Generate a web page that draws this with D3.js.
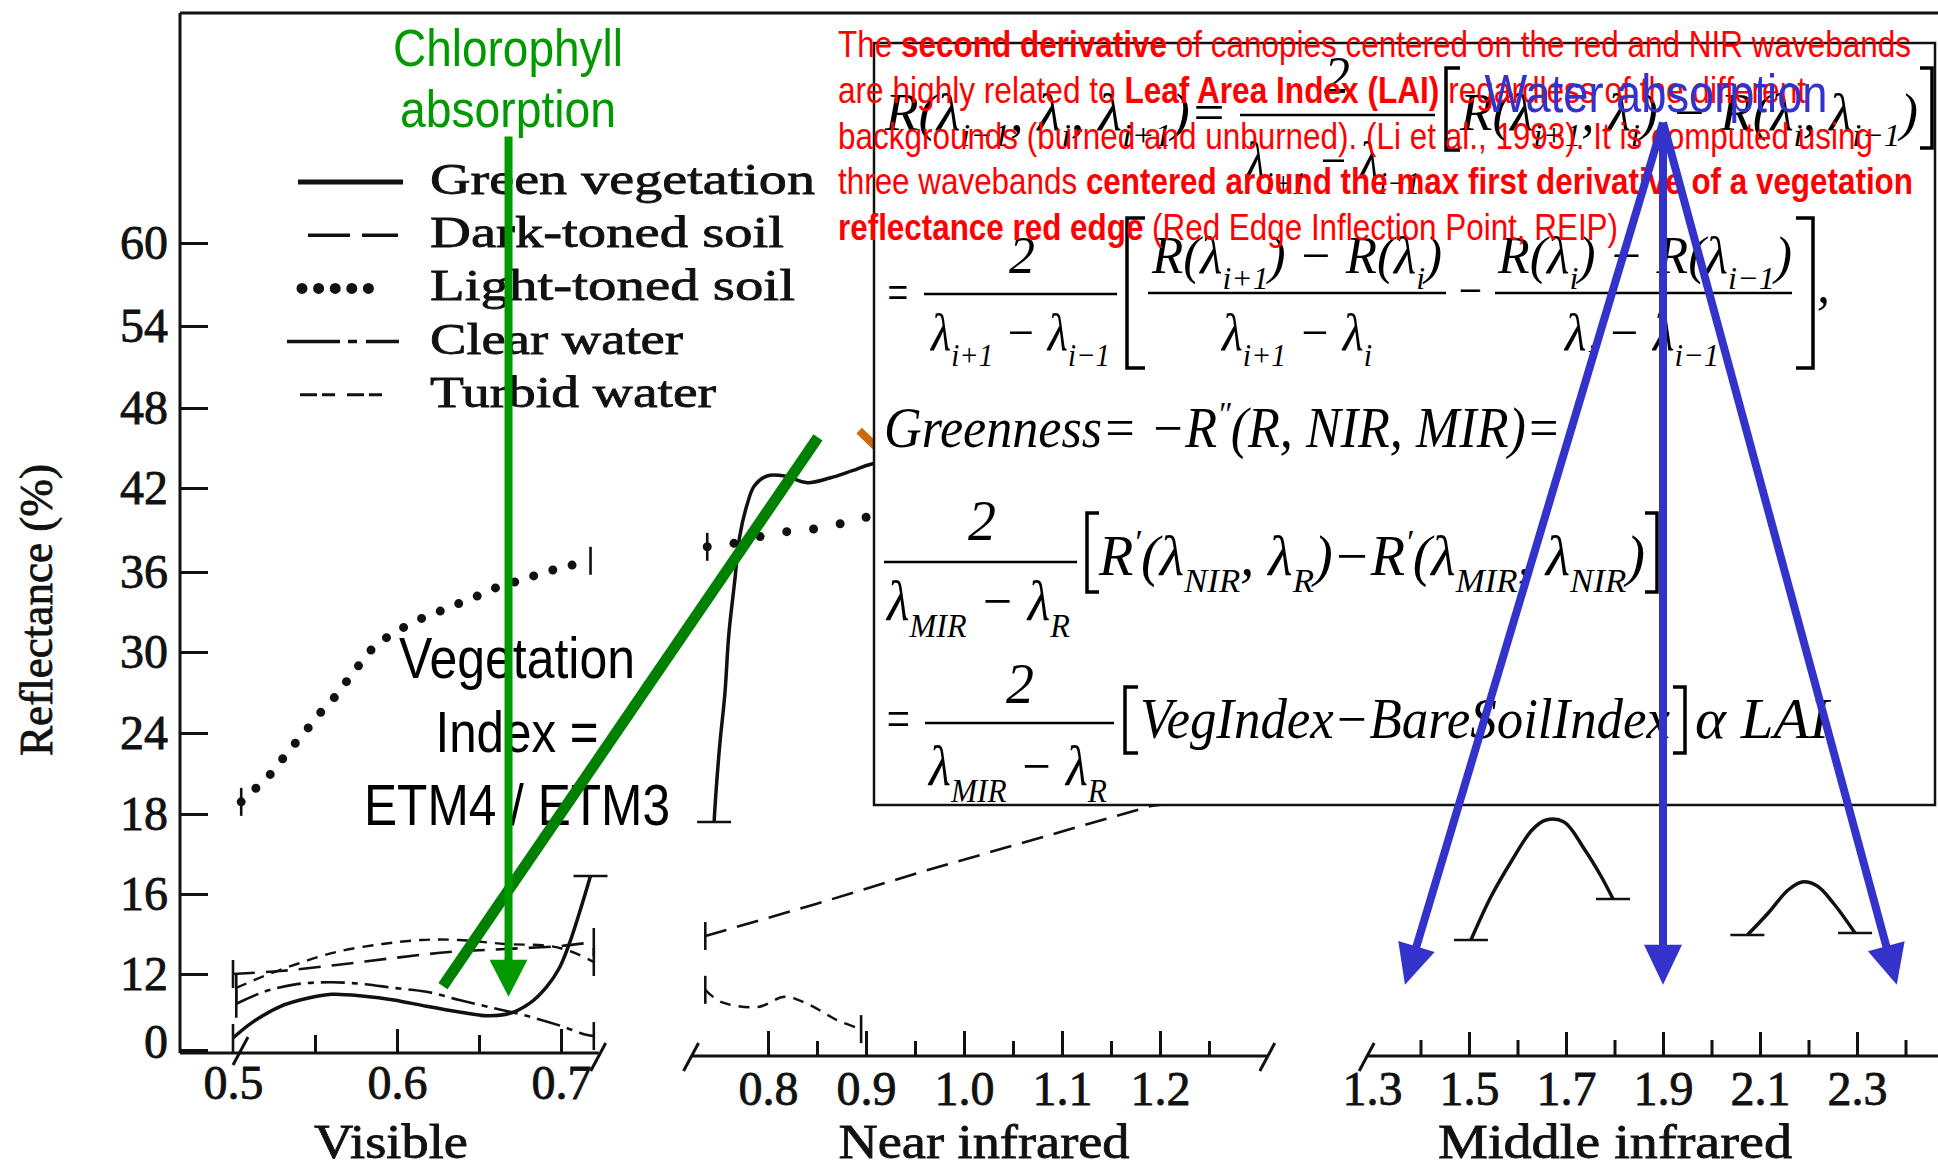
<!DOCTYPE html>
<html>
<head>
<meta charset="utf-8">
<script src="https://cdn.jsdelivr.net/npm/d3@7"></script>
<style>
  html, body { margin: 0; padding: 0; background: #fff; }
  svg { display: block; }
</style>
</head>
<body>
<div id="chart"></div>
<script>
// ---- axis values ----
const yTicks = [0, 12, 16, 18, 24, 30, 36, 42, 48, 54, 60]
const visMajor = [0.6, 0.7], visMinor = [0.55, 0.65], visLabels = [0.5, 0.6, 0.7]
const nirMajor = [0.8, 0.9, 1.0, 1.1, 1.2], nirMinor = [0.85, 0.95, 1.05, 1.15, 1.25]
const nirLabels = [0.8, 0.9, 1.0, 1.1, 1.2]
const mirMajor = [1.5, 1.7, 1.9, 2.1, 2.3], mirMinor = [1.4, 1.6, 1.8, 2.0, 2.2, 2.4]
const mirLabels = [1.3, 1.5, 1.7, 1.9, 2.1, 2.3]

// ---- reflectance curves [wavelength um, reflectance %] ----
const vegVis = [[0.500,1.9],[0.512,4.4],[0.529,6.9],[0.546,8.2],[0.560,8.8],[0.580,8.5],[0.598,7.9],[0.618,6.9],[0.638,6.0],[0.655,5.4],[0.669,5.8],[0.681,7.4],[0.691,9.9],[0.699,12.3],[0.705,13.5],[0.711,15.0],[0.718,16.45]]
const darkVis = [[0.500,12.0],[0.529,12.15],[0.563,12.45],[0.598,12.8],[0.632,13.1],[0.666,13.25],[0.700,13.4],[0.720,13.6]]
const lightVis = [[0.505,18.9],[0.513,19.8],[0.521,20.7],[0.529,21.9],[0.537,23.1],[0.546,24.4],[0.554,25.6],[0.563,26.8],[0.571,28.1],[0.578,29.2],[0.587,30.5],[0.598,31.4],[0.611,32.3],[0.625,33.0],[0.637,33.6],[0.649,34.2],[0.662,34.9],[0.676,35.4],[0.688,35.9],[0.700,36.3],[0.707,36.5],[0.718,36.8]]
const clearVis = [[0.502,7.3],[0.519,9.2],[0.539,10.4],[0.560,10.7],[0.580,10.4],[0.598,9.8],[0.618,9.2],[0.638,7.9],[0.659,6.6],[0.679,5.4],[0.700,3.8],[0.714,2.5],[0.720,2.2]]
const turbidVis = [[0.502,9.8],[0.519,11.7],[0.539,12.5],[0.563,13.1],[0.591,13.5],[0.615,13.7],[0.638,13.7],[0.666,13.5],[0.693,13.4],[0.707,13.1],[0.720,12.6]]

const vegNir = [[0.745,17.8],[0.747,19.7],[0.751,23.3],[0.756,26.9],[0.760,31.3],[0.766,35.3],[0.771,38.5],[0.779,40.9],[0.786,42.15],[0.799,42.9],[0.817,42.9],[0.840,42.4],[0.863,42.75],[0.886,43.3],[0.906,43.8],[1.000,44.6]]
const darkNir = [[0.736,13.9],[0.849,15.5],[0.963,16.6],[1.077,17.4],[1.191,18.6],[1.300,19.6]]
const lightNir = [[0.738,37.8],[0.762,38.0],[0.790,38.5],[0.821,38.9],[0.849,39.1],[0.877,39.5],[0.899,39.9],[1.000,40.6]]
const turbidNir = [[0.736,9.5],[0.752,7.6],[0.790,6.8],[0.817,8.4],[0.840,7.3],[0.872,4.6],[0.895,3.3]]

const vegMir1 = [[1.504,13.7],[1.545,15.85],[1.589,16.85],[1.630,17.6],[1.659,17.85],[1.696,17.8],[1.739,17.1],[1.772,16.45],[1.797,15.75]]
const vegMir2 = [[2.074,13.95],[2.117,15.05],[2.158,16.1],[2.187,16.3],[2.218,16.2],[2.251,15.55],[2.296,14.05]]

// ---- legend ----
const legendNames = ['Green vegetation', 'Dark-toned soil', 'Light-toned soil', 'Clear water', 'Turbid water']
const legendKeys = ['veg', 'dark', 'light', 'clear', 'turbid']

// ---- annotations [wavelength, reflectance] ----
const chloroArrow = [[0.668, 67.7], [0.668, 8.4]]
const viLineFrom = [0.628, 10.1], viLineTo = [0.851, 45.8]
const waterFrom = [1.90, 68.7]
const waterTips = [[1.368, 10.3], [1.90, 10.3], [2.382, 10.3]]
const orangeMark = [[0.893, 46.3], [0.910, 45.1]]

const noteLines = [
	[['The ', 0], ['second derivative', 1], [' of canopies centered on the red and NIR wavebands', 0]],
	[['are highly related to ', 0], ['Leaf Area Index (LAI)', 1], [' regardless of the different', 0]],
	[['backgrounds (burned and unburned). (Li et al., 1993). It is computed using', 0]],
	[['three wavebands ', 0], ['centered around the max first derivative of a vegetation', 1]],
	[['reflectance red edge', 1], [' (Red Edge Inflection Point, REIP)', 0]]
]
const noteWidths = [1073, 968, 1035, 1075, 780]

const W = 1938, H = 1167
const ink = '#111'
const serif = "'Liberation Serif','Times New Roman',serif"
const narrow = "'Liberation Sans Narrow','Arial Narrow','Liberation Sans',Arial,sans-serif"

const svg = d3.select('#chart').append('svg')
	.attr('width', W)
	.attr('height', H)

svg.append('rect').attr('width', W).attr('height', H).attr('fill', '#fff')

// broken reflectance scale, as printed
const y = d3.scaleLinear()
	.domain(yTicks)
	.range([1050, 974, 894, 814, 733, 652, 572, 488, 408, 326, 243])
const xVis = d3.scaleLinear().domain([0.5, 0.7]).range([233, 561])
const xNir = d3.scaleLinear().domain([0.8, 1.2]).range([768, 1160])
const xMir = d3.scaleLinear().domain([1.5, 2.3]).range([1469, 1857])

function fitText(sel, width) {
	return sel.attr('textLength', width).attr('lengthAdjust', 'spacingAndGlyphs')
}
// printed (scanned) serif text is a little heavier than the font
function scanText(sel, size) {
	return sel.attr('font-family', serif).attr('font-size', size)
		.attr('fill', ink).attr('stroke', ink).attr('stroke-width', 0.8)
}

// frame
svg.append('line').attr('x1', 180).attr('x2', W).attr('y1', 13).attr('y2', 13)
	.attr('stroke', ink).attr('stroke-width', 3)
svg.append('line').attr('x1', 180).attr('x2', 180).attr('y1', 13).attr('y2', 1053)
	.attr('stroke', ink).attr('stroke-width', 3)

// y axis
const yAxis = svg.append('g')
	.attr('transform', 'translate(180,0)')
	.call(d3.axisLeft(y).tickValues(yTicks).tickSize(-28).tickPadding(12).tickFormat(d3.format('d')))
yAxis.select('.domain').remove()
yAxis.selectAll('line').attr('stroke', ink).attr('stroke-width', 3)
scanText(yAxis.selectAll('text'), 48)
yAxis.selectAll('.tick').filter(function (d) { return d === 0 }).select('text').attr('dy', '0.15em')

fitText(scanText(svg.append('text')
	.attr('transform', 'translate(52,610) rotate(-90)')
	.attr('text-anchor', 'middle')
	.text('Reflectance (%)'), 46), 292)

// wavelength axes
function bandAxis(scale, yPos, major, minor, labels, majorLen, minorLen, pad) {
	const g = svg.append('g').attr('transform', 'translate(0,' + yPos + ')')
	g.append('g').call(d3.axisBottom(scale).tickValues(major).tickSize(-majorLen).tickFormat(''))
	g.append('g').call(d3.axisBottom(scale).tickValues(minor).tickSize(-minorLen).tickFormat(''))
	g.append('g').call(d3.axisBottom(scale).tickValues(labels).tickSize(0).tickPadding(pad).tickFormat(d3.format('.1f')))
	g.selectAll('.domain').remove()
	g.selectAll('line').attr('stroke', ink).attr('stroke-width', 3)
	scanText(g.selectAll('text'), 48)
	return g
}

function hline(x1, x2, yy) {
	svg.append('line').attr('x1', x1).attr('x2', x2).attr('y1', yy).attr('y2', yy)
		.attr('stroke', ink).attr('stroke-width', 3)
}
function slash(x, yy) {
	svg.append('line').attr('x1', x - 8).attr('y1', yy + 15).attr('x2', x + 7).attr('y2', yy - 13)
		.attr('stroke', ink).attr('stroke-width', 3)
}

bandAxis(xVis, 1053, visMajor, visMinor, visLabels, 24, 18, 12)
hline(180, xVis(0.723), 1053)
slash(xVis(0.5) + 8, 1050)
slash(xVis(0.723), 1056)

bandAxis(xNir, 1056, nirMajor, nirMinor, nirLabels, 25, 15, 15)
hline(xNir(0.722), xNir(1.31), 1056)
slash(xNir(0.722), 1056)
slash(xNir(1.31), 1056)

bandAxis(xMir, 1056, mirMajor, mirMinor, mirLabels, 24, 16, 15)
hline(xMir(1.29), W, 1056)
slash(xMir(1.29), 1056)

const axisTitles = [['Visible', 391, 154], ['Near infrared', 984, 291], ['Middle infrared', 1615, 354]]
axisTitles.forEach(function (d) {
	fitText(scanText(svg.append('text')
		.attr('x', d[1]).attr('y', 1158)
		.attr('text-anchor', 'middle')
		.text(d[0]), 48), d[2])
})

// curve styles
const styles = {
	veg: { width: 3.5, dash: null },
	dark: { width: 2.6, dash: '22 11' },
	light: { width: 9, dash: '0 20', round: true },
	clear: { width: 2.6, dash: '24 7 6 7' },
	turbid: { width: 2.4, dash: '11 8' }
}

const series = [
	{ data: vegVis, x: xVis, key: 'veg', caps: ['v', 'h'] },
	{ data: darkVis, x: xVis, key: 'dark', caps: ['v', 'v'] },
	{ data: lightVis, x: xVis, key: 'light', caps: ['v', 'v'] },
	{ data: clearVis, x: xVis, key: 'clear', caps: ['v', 'v'] },
	{ data: turbidVis, x: xVis, key: 'turbid', caps: ['v', 'v'] },
	{ data: vegNir, x: xNir, key: 'veg', caps: ['h', null] },
	{ data: darkNir, x: xNir, key: 'dark', caps: ['v', null], linear: true },
	{ data: lightNir, x: xNir, key: 'light', caps: ['v', null], dash: '0 27' },
	{ data: turbidNir, x: xNir, key: 'turbid', caps: ['v', 'v'] },
	{ data: vegMir1, x: xMir, key: 'veg', caps: ['h', 'h'] },
	{ data: vegMir2, x: xMir, key: 'veg', caps: ['h', 'h'] }
]

const curves = svg.append('g').attr('id', 'curves')

series.forEach(function (s) {
	const st = styles[s.key]
	const line = d3.line()
		.x(function (d) { return s.x(d[0]) })
		.y(function (d) { return y(d[1]) })
		.curve(s.linear ? d3.curveLinear : d3.curveCatmullRom.alpha(0.5))
	curves.append('path')
		.attr('d', line(s.data))
		.attr('fill', 'none')
		.attr('stroke', ink)
		.attr('stroke-width', st.width)
		.attr('stroke-dasharray', s.dash || st.dash)
		.attr('stroke-linecap', st.round ? 'round' : 'butt')
		.attr('stroke-linejoin', 'round')

	// end bars of each measured segment
	const ends = [s.data[0], s.data[s.data.length - 1]]
	s.caps.forEach(function (c, i) {
		if (!c) return
		const px = s.x(ends[i][0]), py = y(ends[i][1])
		const cap = curves.append('line').attr('stroke', ink).attr('stroke-width', 2.6)
		if (c === 'v')
			cap.attr('x1', px).attr('x2', px).attr('y1', py - 14).attr('y2', py + 14)
		else
			cap.attr('x1', px - 17).attr('x2', px + 17).attr('y1', py).attr('y2', py)
	})
})

// legend
const legendStyle = {
	veg: { width: 5, dash: null, span: [298, 403] },
	dark: { width: 3.5, dash: '42 12', span: [308, 398] },
	light: { width: 11, dash: '0 16.6', span: [302, 385], round: true },
	clear: { width: 3.5, dash: '53 8 9 9', span: [287, 399] },
	turbid: { width: 3, dash: '17 5 13 12', span: [300, 393] }
}
const legendWidths = [385, 354, 365, 253, 286]
const legend = svg.append('g').attr('id', 'legend')
legendNames.forEach(function (name, i) {
	const ls = legendStyle[legendKeys[i]]
	const base = 194 + i * 53.2
	legend.append('line')
		.attr('x1', ls.span[0]).attr('x2', ls.span[1])
		.attr('y1', base - 12).attr('y2', base - 12)
		.attr('stroke', ink)
		.attr('stroke-width', ls.width)
		.attr('stroke-dasharray', ls.dash)
		.attr('stroke-linecap', ls.round ? 'round' : 'butt')
	fitText(scanText(legend.append('text')
		.attr('x', 430).attr('y', base)
		.text(name), 45), legendWidths[i])
})

// orange fragment peeking out under the box
svg.append('line')
	.attr('x1', xNir(orangeMark[0][0])).attr('y1', y(orangeMark[0][1]))
	.attr('x2', xNir(orangeMark[1][0])).attr('y2', y(orangeMark[1][1]))
	.attr('stroke', '#cc6a10').attr('stroke-width', 8)

// ---- formula box ----
const box = svg.append('g').attr('id', 'formulas')
box.append('rect')
	.attr('x', 874).attr('y', 43).attr('width', 1061).attr('height', 762)
	.attr('fill', '#fff').attr('stroke', ink).attr('stroke-width', 2.5)

function math(x, yb, parts, size, width, anchor) {
	const t = box.append('text')
		.attr('x', x).attr('y', yb)
		.attr('font-family', serif).attr('font-style', 'italic')
		.attr('font-size', size).attr('fill', '#000')
		.attr('text-anchor', anchor || 'start')
	let shift = 0
	parts.forEach(function (p) {
		const s = typeof p === 'string' ? p : p[0]
		const kind = typeof p === 'string' ? 'n' : p[1]
		const target = kind === 'sub' ? size * 0.3 : kind === 'sup' ? -size * 0.4 : 0
		const ts = t.append('tspan').text(s).attr('dy', target - shift)
		if (kind !== 'n') ts.attr('font-size', size * 0.62)
		shift = target
	})
	if (width) fitText(t, width)
	return t
}
function bar(x1, x2, yy) {
	box.append('line').attr('x1', x1).attr('x2', x2).attr('y1', yy).attr('y2', yy)
		.attr('stroke', '#000').attr('stroke-width', 2.5)
}
function bracket(x1, x2, y1, y2, open) {
	const d = open
		? 'M' + x2 + ',' + y1 + 'H' + x1 + 'V' + y2 + 'H' + x2
		: 'M' + x1 + ',' + y1 + 'H' + x2 + 'V' + y2 + 'H' + x1
	box.append('path').attr('d', d).attr('fill', 'none').attr('stroke', '#000').attr('stroke-width', 3.5)
}

// first line
math(885, 130, ['R(λ', ['i−1', 'sub'], ', λ', ['i', 'sub'], ', λ', ['i+1', 'sub'], ')='], 52, 342)
bar(1240, 1435, 115)
math(1337, 93, ['2'], 52, null, 'middle')
math(1246, 178, ['λ', ['i+1', 'sub'], ' − λ', ['i−1', 'sub']], 52, 174)
bracket(1446, 1460, 68, 150, true)
math(1460, 130, ['R(λ', ['i+1', 'sub'], ', λ', ['i', 'sub'], ') − R(λ', ['i', 'sub'], ', λ', ['i−1', 'sub'], ')'], 52, 458)
bracket(1920, 1932, 68, 148, false)

// second line
math(885, 310, ['='], 52, 25)
bar(924, 1117, 294)
math(1022, 273, ['2'], 52, null, 'middle')
math(931, 350, ['λ', ['i+1', 'sub'], ' − λ', ['i−1', 'sub']], 52, 179)
bracket(1127, 1145, 218, 368, true)
math(1152, 273, ['R(λ', ['i+1', 'sub'], ') − R(λ', ['i', 'sub'], ')'], 52, 290)
bar(1148, 1446, 293)
math(1222, 350, ['λ', ['i+1', 'sub'], ' − λ', ['i', 'sub']], 52, 150)
math(1456, 308, ['−'], 52, 28)
math(1498, 273, ['R(λ', ['i', 'sub'], ') − R(λ', ['i−1', 'sub'], ')'], 52, 294)
bar(1495, 1792, 293)
math(1565, 350, ['λ', ['i', 'sub'], ' − λ', ['i−1', 'sub']], 52, 154)
bracket(1796, 1813, 218, 368, false)
math(1817, 302, [','], 52)

// greenness
math(884, 447, ['Greenness= −R', ['″', 'sup'], '(R, NIR, MIR)='], 56, 677)

math(982, 540, ['2'], 56, null, 'middle')
bar(884, 1077, 562)
math(887, 620, ['λ', ['MIR', 'sub'], ' − λ', ['R', 'sub']], 56, 183)
bracket(1087, 1099, 513, 592, true)
math(1099, 575, ['R', ['′', 'sup'], '(λ', ['NIR', 'sub'], ', λ', ['R', 'sub'], ')−R', ['′', 'sup'], '(λ', ['MIR', 'sub'], ', λ', ['NIR', 'sub'], ')'], 56, 546)
bracket(1645, 1657, 513, 592, false)

math(884, 738, ['='], 56, 28)
math(1020, 703, ['2'], 56, null, 'middle')
bar(925, 1114, 723)
math(929, 785, ['λ', ['MIR', 'sub'], ' − λ', ['R', 'sub']], 56, 178)
bracket(1125, 1138, 687, 753, true)
math(1140, 738, ['VegIndex−BareSoilIndex'], 56, 530)
bracket(1673, 1685, 687, 753, false)
math(1695, 738, ['α LAI'], 56, 134)

// ---- green annotations ----
const notes = svg.append('g').attr('id', 'notes')

function arrow(g, x1, y1, x2, y2, color, width, headLen, headHalf) {
	const dx = x2 - x1, dy = y2 - y1, L = Math.hypot(dx, dy), ux = dx / L, uy = dy / L
	const bx = x2 - ux * headLen, by = y2 - uy * headLen
	g.append('line')
		.attr('x1', x1).attr('y1', y1).attr('x2', bx + ux * 2).attr('y2', by + uy * 2)
		.attr('stroke', color).attr('stroke-width', width)
	g.append('polygon')
		.attr('points', [[x2, y2], [bx - uy * headHalf, by + ux * headHalf], [bx + uy * headHalf, by - ux * headHalf]].join(' '))
		.attr('fill', color)
}

const chloroText = [['Chlorophyll', 66, 230], ['absorption', 127, 216]]
chloroText.forEach(function (d) {
	fitText(notes.append('text')
		.attr('x', 508).attr('y', d[1])
		.attr('text-anchor', 'middle')
		.attr('font-family', narrow).attr('font-size', 52).attr('fill', '#009900')
		.text(d[0]), d[2])
})

const viText = [['Vegetation', 678, 236], ['Index =', 752, 163], ['ETM4 / ETM3', 825, 306]]
viText.forEach(function (d) {
	fitText(notes.append('text')
		.attr('x', 517).attr('y', d[1])
		.attr('text-anchor', 'middle')
		.attr('font-family', narrow).attr('font-size', 58).attr('fill', '#000')
		.text(d[0]), d[2])
})

notes.append('line')
	.attr('x1', xVis(viLineFrom[0])).attr('y1', y(viLineFrom[1]))
	.attr('x2', xNir(viLineTo[0])).attr('y2', y(viLineTo[1]))
	.attr('stroke', '#008000').attr('stroke-width', 11)

arrow(notes, xVis(chloroArrow[0][0]), y(chloroArrow[0][1]), xVis(chloroArrow[1][0]), y(chloroArrow[1][1]), '#009900', 8, 37, 19)

// ---- red note text ----
const red = svg.append('g').attr('id', 'red-note')
noteLines.forEach(function (parts, i) {
	const t = red.append('text')
		.attr('x', 838).attr('y', 57 + i * 45.75)
		.attr('font-family', narrow).attr('font-size', 37).attr('fill', '#ff0000')
	parts.forEach(function (p) {
		t.append('tspan').text(p[0]).attr('font-weight', p[1] ? 'bold' : 'normal')
	})
	fitText(t, noteWidths[i])
})

// ---- water absorption ----
const water = svg.append('g').attr('id', 'water')
waterTips.forEach(function (tip) {
	arrow(water, xMir(waterFrom[0]), y(waterFrom[1]), xMir(tip[0]), y(tip[1]), '#3333cc', 8, 40, 19)
})
fitText(water.append('text')
	.attr('x', 1656).attr('y', 112)
	.attr('text-anchor', 'middle')
	.attr('font-family', narrow).attr('font-size', 54).attr('fill', '#3333cc')
	.text('Water absorption'), 343)
</script>
</body>
</html>
